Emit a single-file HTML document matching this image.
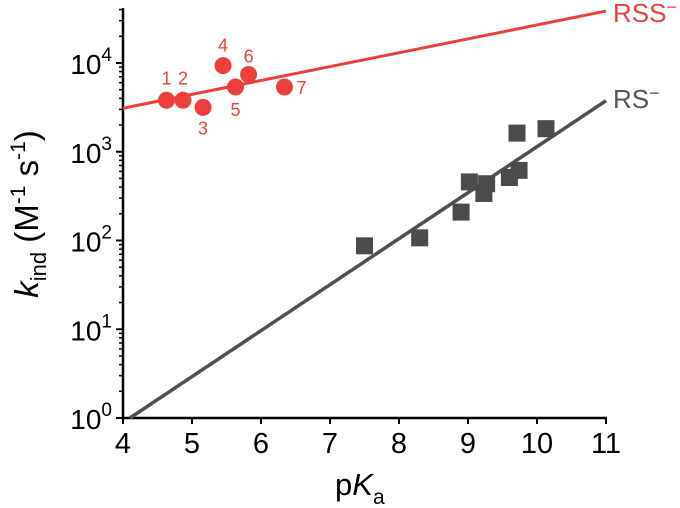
<!DOCTYPE html>
<html><head><meta charset="utf-8"><style>
body{margin:0;background:#fff}
svg{display:block;font-family:"Liberation Sans",Arial,sans-serif}
</style></head><body>
<svg id="chart" width="680" height="508"></svg>
<script>
const xTicks=[4,5,6,7,8,9,10,11];
const yTicks=[0,1,2,3,4];
const rssPka=[4.63,4.87,5.16,5.45,5.63,5.82,6.34];
const rssLogK=[3.58,3.58,3.50,3.97,3.73,3.87,3.73];
const rssLabels=["1","2","3","4","5","6","7"];
const rsPka=[7.50,8.30,8.90,9.02,9.23,9.27,9.60,9.74,9.71,10.13];
const rsLogK=[1.94,2.03,2.32,2.66,2.53,2.64,2.71,2.79,3.21,3.26];
const rssFit=[[4,3.49],[11,4.585]];
const rsFit=[[4.10,0],[11,3.575]];
const NS="http://www.w3.org/2000/svg";
const svg=document.getElementById('chart');
const X=v=>123+(v-4)*69;
const Y=l=>418-l*88.75;
function mk(tag,attrs,parent){const e=document.createElementNS(NS,tag);for(const k in attrs)e.setAttribute(k,attrs[k]);(parent||svg).appendChild(e);return e;}
let e;
e=mk('line',{x1:X(4),y1:Y(0),x2:X(11)+1,y2:Y(0),stroke:'#000','stroke-width':2.5});


e=mk('line',{x1:X(4),y1:Y(0)+1,x2:X(4),y2:Y(4.62),stroke:'#000','stroke-width':2.5});


xTicks.forEach(t=>{
 e=mk('line',{x1:X(t),y1:Y(0),x2:X(t),y2:Y(0)+6,stroke:'#000','stroke-width':2});
 
 
 e=mk('text',{x:X(t),y:453,'font-size':29,'text-anchor':'middle',fill:'#000'});
 e.textContent=t;
 
 
});
yTicks.forEach(t=>{
 e=mk('text',{x:112,y:Y(t)+11,'font-size':28,'text-anchor':'end',fill:'#000'});
 
 
 const a=mk('tspan',{},e);a.textContent='10';
 const s=mk('tspan',{dy:-13,'font-size':19},e);s.textContent=t;
 e=mk('line',{x1:X(4)-7,y1:Y(t),x2:X(4),y2:Y(t),stroke:'#000','stroke-width':2});
 
 
});
for(let d=0;d<=4;d++){for(let m=2;m<=9;m++){const l=d+Math.log10(m);if(l>4.62)break;
 e=mk('line',{x1:X(4)-4,y1:Y(l),x2:X(4),y2:Y(l),stroke:'#000','stroke-width':1.5});
 
 
}}
e=mk('line',{x1:X(rssFit[0][0]),y1:Y(rssFit[0][1]),x2:X(rssFit[1][0]),y2:Y(rssFit[1][1]),stroke:'#ee3f3f','stroke-width':3});


e=mk('line',{x1:X(rsFit[0][0]),y1:Y(rsFit[0][1]),x2:X(rsFit[1][0]),y2:Y(rsFit[1][1]),stroke:'#505050','stroke-width':3.5});


rsPka.forEach((p,i)=>{
 e=mk('rect',{x:X(p)-8.5,y:Y(rsLogK[i])-8.5,width:17,height:17,fill:'#4b4b4b'});
 
 
});
const off=[[0,-22],[0,-22],[0,21],[0,-20],[0,23],[0,-18],[17,1]];
rssPka.forEach((p,i)=>{
 e=mk('circle',{cx:X(p),cy:Y(rssLogK[i]),r:8.5,fill:'#ee3f3f'});
 
 
 e=mk('text',{x:X(p)+off[i][0],y:Y(rssLogK[i])+off[i][1]+6,'font-size':18,'text-anchor':'middle',fill:'#ee3f3f'});
 e.textContent=rssLabels[i];
 
 
});
e=mk('text',{x:613,y:22,'font-size':26,fill:'#ee3f3f'});
e.innerHTML='RSS<tspan font-size="18" dy="-9">\u2212</tspan>';


e=mk('text',{x:613,y:108,'font-size':26,fill:'#555'});
e.innerHTML='RS<tspan font-size="18" dy="-9">\u2212</tspan>';


e=mk('text',{x:335,y:495,'font-size':31,fill:'#000'});


e.innerHTML='p<tspan font-style="italic">K</tspan><tspan font-size="21" dy="9">a</tspan>';
e=mk('text',{x:0,y:0,'font-size':33,'text-anchor':'middle',fill:'#000',transform:'translate(38,214) rotate(-90)'});


e.innerHTML='<tspan font-style="italic">k</tspan><tspan font-size="22" dy="8">ind</tspan><tspan dy="-8"> (M</tspan><tspan font-size="21" dy="-13">-1</tspan><tspan dy="13"> s</tspan><tspan font-size="21" dy="-13">-1</tspan><tspan dy="13">)</tspan>';
</script>
</body></html>
